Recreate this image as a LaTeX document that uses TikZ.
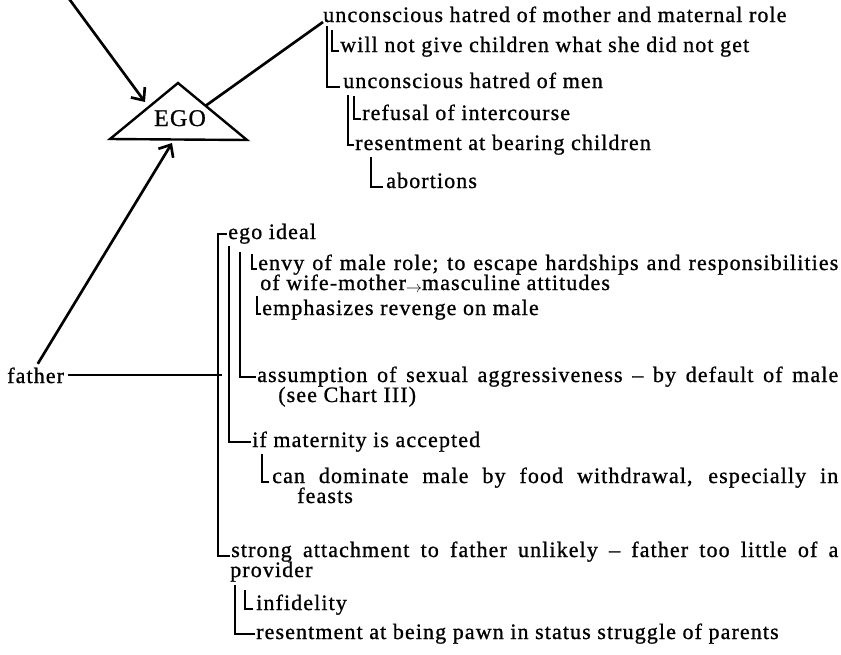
\documentclass[tikz,border=0pt]{standalone}
\usepackage{fontspec}
\usepackage{graphicx}
\setmainfont{Liberation Serif}[LetterSpace=5,BoldFont=Liberation Serif,BoldFeatures={FakeBold=0.9}]
\usetikzlibrary{arrows.meta,calc}
\newcommand{\chartfont}{\fontsize{16.5pt}{15pt}\selectfont\bfseries}
\newcommand{\egofont}{\fontsize{18pt}{18pt}\selectfont\bfseries}
\newcommand{\fillto}[2]{\makebox[#1][s]{#2}}
\newcommand{\smallarrow}{\raisebox{-1.5pt}{$\scriptstyle\rightarrow$}}

\begin{document}
\begin{tikzpicture}[x=0.75pt,y=-0.75pt,
  txt/.style={anchor=base west,inner sep=0pt,font=\chartfont},
  conn/.style={line width=1.4pt},
  heavy/.style={line width=2pt},
  barb/.style={-{Straight Barb[length=7.5pt,width=13pt]}}]
\useasboundingbox (0,0) rectangle (841,654);

% the EGO triangle
\coordinate (apex) at (178,83);
\coordinate (baseL) at (110,139);
\coordinate (baseR) at (247,140);
\draw[line width=1.8pt,line join=miter] (apex) -- (baseR) -- (baseL) -- cycle;
\node[anchor=base,inner sep=0pt,font=\egofont] (ego) at (180,126) {EGO};
\coordinate (egoside) at ($(apex)!0.4!(baseR)$);
\coordinate (inA) at (145,102);
\coordinate (inB) at (172,143);
\coordinate (outA) at (67,-4);

% upper branch
\node[txt] (t1) at (323,22) {unconscious hatred of mother and maternal role};
\node[txt] (t2) at (340,52) {will not give children what she did not get};
\node[txt] (t3) at (343,88) {unconscious hatred of men};
\node[txt] (t4) at (362,120) {refusal of intercourse};
\node[txt] (t5) at (355,150) {resentment at bearing children};
\node[txt] (t6) at (386,188) {abortions};

\draw[heavy] (egoside) -- (t1.base west);
\draw[conn] (327,26) |- ([xshift=-2pt,yshift=1pt]t3.base west);
\draw[conn] (332,30) |- ([xshift=-1pt,yshift=1pt]t2.base west);
\draw[conn] (348,95) |- ([xshift=-1pt,yshift=4pt]t5.base west);
\draw[conn] (354,96) |- ([xshift=-1pt,yshift=1pt]t4.base west);
\draw[conn] (371,157) |- ([xshift=-2pt,yshift=1pt]t6.base west);

% lower branch
\node[txt] (father) at (7,383) {father};
\node[txt] (egoideal) at (228,239) {ego ideal};
\node[txt] (envy) at (258,270) {\fillto{435pt}{envy of male role; to escape hardships and responsibilities}};
\node[txt] (envy2) at (260,290) {of wife-mother\smallarrow masculine attitudes};
\node[txt] (emph) at (262,315) {emphasizes revenge on male};
\node[txt] (assump) at (257,382) {\fillto{435.75pt}{assumption of sexual aggressiveness -- by default of male}};
\node[txt] (assump2) at (278,402) {(see Chart III)};
\node[txt] (ifmat) at (252,447) {if maternity is accepted};
\node[txt] (candom) at (272,483) {\fillto{424.5pt}{can dominate male by food withdrawal, especially in}};
\node[txt] (feasts) at (297,503) {feasts};
\node[txt] (strong) at (231,557) {\fillto{455.25pt}{strong attachment to father unlikely -- father too little of a}};
\node[txt] (provider) at (230,577) {provider};
\node[txt] (infid) at (256,610) {infidelity};
\node[txt] (pawn) at (256,639) {resentment at being pawn in status struggle of parents};

\coordinate (outerx) at (218,0);
\draw[conn] ([xshift=-1pt,yshift=4pt]egoideal.base west) -| (218,540) |- ([xshift=-1pt,yshift=1pt]strong.base west);
\draw[conn] ([xshift=3pt]father.east) -- ([xshift=3pt]father.east -| outerx);
\draw[conn] (229,246) |- ([xshift=-1pt,yshift=4pt]ifmat.base west);
\draw[conn] (240,252) |- ([xshift=-1pt,yshift=4pt]assump.base west);
\draw[conn] (252,254) |- ([xshift=-1pt,yshift=1pt]envy.base west);
\draw[conn] (257,296) |- ([xshift=-1pt,yshift=1pt]emph.base west);
\draw[conn] (262,454) |- ([xshift=-2pt,yshift=1pt]candom.base west);
\draw[conn] (235,585) |- ([xshift=-1pt,yshift=4pt]pawn.base west);
\draw[conn] (245,590) |- ([xshift=-2pt,yshift=1pt]infid.base west);

% arrows into EGO
\draw[heavy,barb] (outA) -- (inA);
\draw[heavy,barb,shorten <=3pt] (father.north) -- (inB);
\end{tikzpicture}
\end{document}
